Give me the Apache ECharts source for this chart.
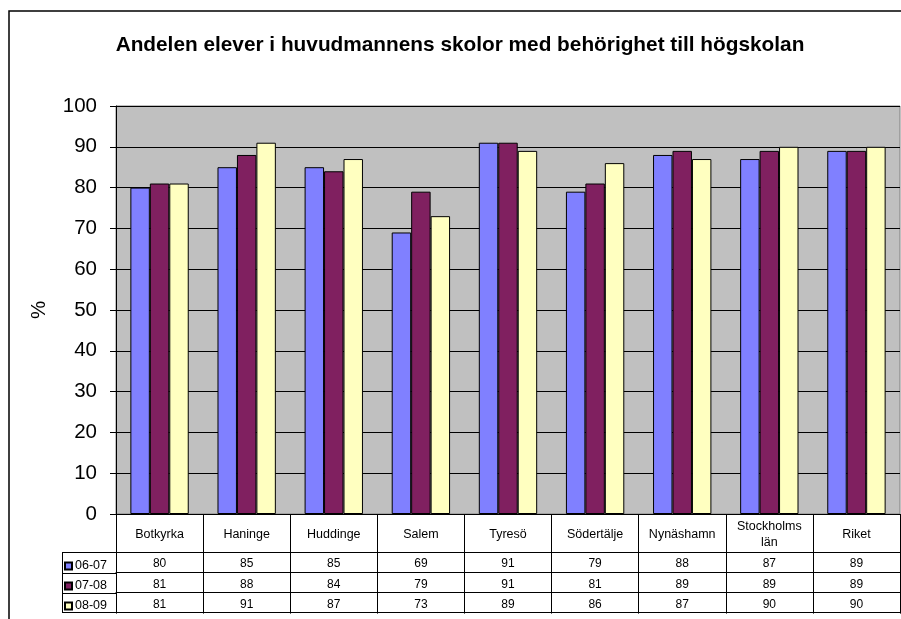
<!DOCTYPE html>
<html>
<head>
<meta charset="utf-8">
<script src="https://cdn.jsdelivr.net/npm/echarts@6/dist/echarts.min.js"></script>
<style>
  html, body { margin: 0; padding: 0; background: #fff; }
  #chart { width: 901px; height: 619px; }
</style>
</head>
<body>
<div id="chart"></div>
<script>
const categories = ['Botkyrka', 'Haninge', 'Huddinge', 'Salem', 'Tyresö', 'Södertälje', 'Nynäshamn', 'Stockholms\nlän', 'Riket']
const seriesNames = ['06-07', '07-08', '08-09']
const v0607 = [80, 85, 85, 69, 91, 79, 88, 87, 89]
const v0708 = [81, 88, 84, 79, 91, 81, 89, 89, 89]
const v0809 = [81, 91, 87, 73, 89, 86, 87, 90, 90]
const yTicks = [0, 10, 20, 30, 40, 50, 60, 70, 80, 90, 100]
const colors = ['#8080FF', '#802060', '#FFFFC0']

const font = 'Arial, "Liberation Sans", sans-serif'
const rowValues = [v0607, v0708, v0809]

const chart = echarts.init(document.getElementById('chart'))

// table rows under the plot are drawn as extra x axes with offsets
function tableAxis(offset, tickLen, labels) {
  return {
    type: 'category',
    position: 'bottom',
    offset: offset,
    data: categories,
    axisLine: { show: true, lineStyle: { color: '#000', width: 1 } },
    axisTick: { show: tickLen > 0, length: tickLen, interval: 0, lineStyle: { color: '#000' } },
    axisLabel: labels ? {
      show: true,
      interval: 0,
      margin: 12,
      verticalAlign: 'middle',
      color: '#000',
      fontFamily: font,
      fontSize: 12,
      formatter: labels
    } : { show: false },
    splitLine: { show: false }
  }
}

const xAxes = [
  {
    type: 'category',
    position: 'bottom',
    data: categories,
    axisLine: { show: true, lineStyle: { color: '#000', width: 1 } },
    axisTick: { show: true, length: 38, interval: 0, lineStyle: { color: '#000' } },
    axisLabel: {
      interval: 0,
      margin: 21,
      verticalAlign: 'middle',
      color: '#000',
      fontFamily: font,
      fontSize: 12.5,
      lineHeight: 16
    }
  }
]
rowValues.forEach((vals, r) => {
  xAxes.push(tableAxis(38 + r * 20.3, 21, (v, i) => String(vals[i])))
})
xAxes.push(tableAxis(98, 0, null))

// lines of the legend column left of the table
const legendLines = [552, 573, 593, 612].map(y => ({
  type: 'line',
  shape: { x1: 62, y1: y + 0.5, x2: 116, y2: y + 0.5 },
  style: { stroke: '#000', lineWidth: 1 },
  silent: true
}))

const option = {
  animation: false,
  backgroundColor: '#fff',
  title: {
    text: 'Andelen elever i huvudmannens skolor med behörighet till högskolan',
    left: 460,
    top: 35,
    textAlign: 'center',
    padding: 0,
    textStyle: { fontFamily: font, fontSize: 20.8, fontWeight: 'bold', color: '#000' }
  },
  legend: {
    data: seriesNames,
    orient: 'vertical',
    left: 64,
    top: 559,
    padding: 0,
    itemWidth: 7,
    itemHeight: 7,
    itemGap: 6,
    icon: 'rect',
    selectedMode: false,
    textStyle: { fontFamily: font, fontSize: 12.5, color: '#000', lineHeight: 14, padding: [0, 0, 0, -2] }
  },
  graphic: [
    {
      type: 'rect',
      shape: { x: 9, y: 11, width: 1000, height: 700 },
      style: { fill: 'none', stroke: '#000', lineWidth: 1.5 },
      silent: true
    },
    {
      type: 'line',
      shape: { x1: 62.5, y1: 552, x2: 62.5, y2: 613 },
      style: { stroke: '#000', lineWidth: 1 },
      silent: true
    }
  ].concat(legendLines),
  grid: {
    left: 116, right: 1, top: 106, bottom: 105,
    show: true, backgroundColor: '#C0C0C0', borderColor: '#808080', borderWidth: 1
  },
  xAxis: xAxes,
  yAxis: {
    type: 'value',
    min: 0,
    max: 100,
    interval: 10,
    name: '%',
    nameLocation: 'middle',
    nameGap: 66,
    nameRotate: 90,
    nameTextStyle: { fontFamily: font, fontSize: 20.5, color: '#000' },
    axisLine: { show: true, lineStyle: { color: '#000' } },
    axisTick: { show: true, length: 6, lineStyle: { color: '#000' } },
    axisLabel: {
      margin: 19,
      color: '#000',
      fontFamily: font,
      fontSize: 20.5,
      formatter: v => yTicks.includes(v) ? String(v) : ''
    },
    splitLine: { show: true, lineStyle: { color: '#000', width: 1 } }
  },
  series: seriesNames.map((name, s) => ({
    name: name,
    type: 'bar',
    data: rowValues[s],
    barGap: 0,
    barCategoryGap: '33%',
    itemStyle: { color: colors[s], borderColor: '#000', borderWidth: 1 }
  }))
}

chart.setOption(option)
window.addEventListener('resize', () => chart.resize())
</script>
</body>
</html>
